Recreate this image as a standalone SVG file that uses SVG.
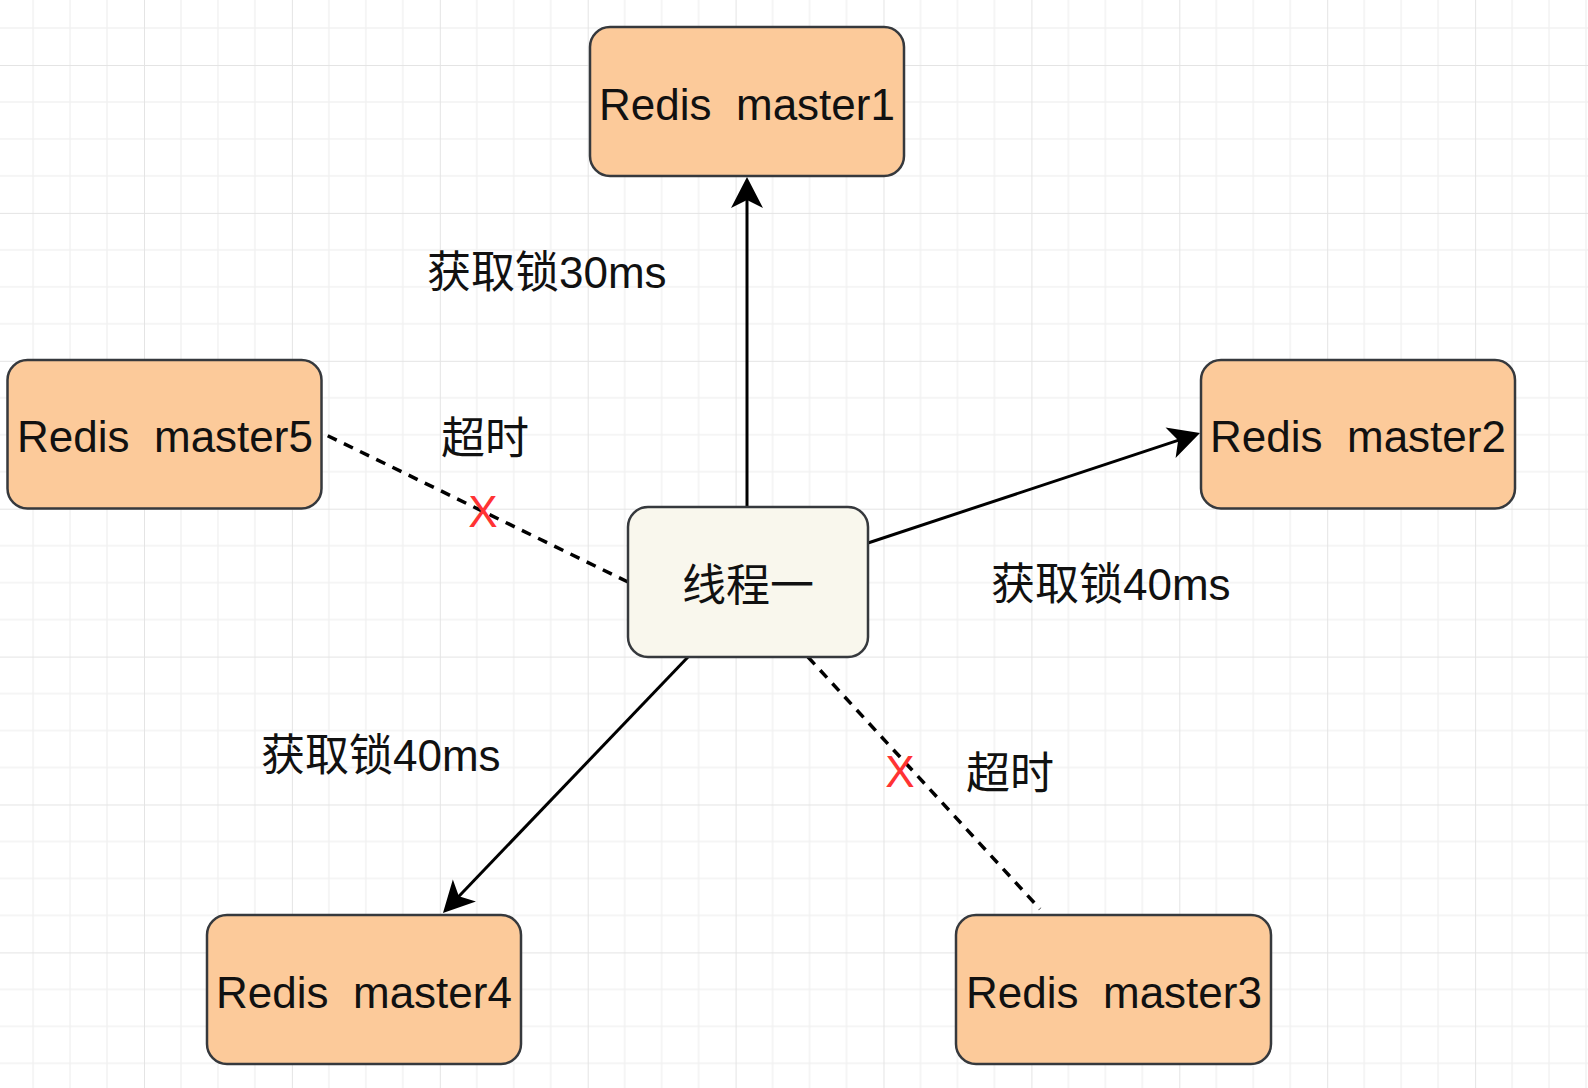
<svg xmlns="http://www.w3.org/2000/svg" width="1588" height="1088" viewBox="0 0 1588 1088">
<style>
.node{stroke:#36393d;stroke-width:2.5}
.redis{fill:#fcca9a}
.thread{fill:#f9f7ed}
.ntext{font-family:"Liberation Sans","Noto Sans CJK SC",sans-serif;font-size:44px;fill:#111;text-anchor:middle;white-space:pre}
.label{font-family:"Liberation Sans","Noto Sans CJK SC",sans-serif;font-size:44px;fill:#111}
.cross{font-family:"Liberation Sans",sans-serif;font-size:44px;fill:#ff3333;text-anchor:middle}
.edge{stroke:#000;stroke-width:3;fill:none}
.dashed{stroke-width:3.5;stroke-dasharray:10 8}
</style>
<defs>
<pattern id="grid" x="-3.9" y="-82.9" width="147.9" height="147.9" patternUnits="userSpaceOnUse">
<path d="M36.975 0V147.9M73.95 0V147.9M110.925 0V147.9M0 36.975H147.9M0 73.95H147.9M0 110.925H147.9" stroke="#f2f2f2" stroke-width="1.5" fill="none"/>
<path d="M0 0V147.9M0 0H147.9" stroke="#e4e4e4" stroke-width="2" fill="none"/>
</pattern>
<marker id="arrow" markerUnits="userSpaceOnUse" viewBox="-12 -17 34 34" markerWidth="34" markerHeight="34" refX="0" refY="0" orient="auto">
<path d="M20 0L-11 -16L-3 0L-11 16Z" fill="#000"/>
</marker>
</defs>
<rect width="1588" height="1088" fill="#fff"/>
<rect width="1588" height="1088" fill="url(#grid)"/>
<g id="connectors">
<line class="edge" x1="747" y1="507" x2="747" y2="197" marker-end="url(#arrow)"/>
<line class="edge" x1="868" y1="543" x2="1181" y2="439.3" marker-end="url(#arrow)"/>
<line class="edge" x1="688" y1="657" x2="456.8" y2="898.5" marker-end="url(#arrow)"/>
<line class="edge dashed" x1="628" y1="582" x2="322" y2="433"/>
<line class="edge dashed" x1="808" y1="657" x2="1040" y2="909"/>
</g>
<g id="labels">
<text class="label" x="427" y="288">获取锁30ms</text>
<text class="label" x="441" y="454">超时</text>
<text class="label" x="991" y="600">获取锁40ms</text>
<text class="label" x="261" y="771">获取锁40ms</text>
<text class="label" x="966" y="789">超时</text>
<text class="cross" x="483" y="527">X</text>
<text class="cross" x="900" y="787">X</text>
</g>
<g id="master1">
<rect class="node redis" x="590" y="27" width="314" height="149" rx="20"/>
<text class="ntext" x="747" y="119.5" xml:space="preserve">Redis  master1</text>
</g>
<g id="master2">
<rect class="node redis" x="1201" y="360" width="314" height="148.5" rx="20"/>
<text class="ntext" x="1358" y="452" xml:space="preserve">Redis  master2</text>
</g>
<g id="master3">
<rect class="node redis" x="956" y="915" width="315" height="149" rx="20"/>
<text class="ntext" x="1114" y="1008" xml:space="preserve">Redis  master3</text>
</g>
<g id="master4">
<rect class="node redis" x="207" y="915" width="314" height="149" rx="20"/>
<text class="ntext" x="364" y="1008" xml:space="preserve">Redis  master4</text>
</g>
<g id="master5">
<rect class="node redis" x="7.5" y="360" width="314" height="148.5" rx="20"/>
<text class="ntext" x="165" y="452" xml:space="preserve">Redis  master5</text>
</g>
<g id="thread1">
<rect class="node thread" x="628" y="507" width="240" height="150" rx="20"/>
<text class="ntext" x="748" y="601">线程一</text>
</g>
</svg>
